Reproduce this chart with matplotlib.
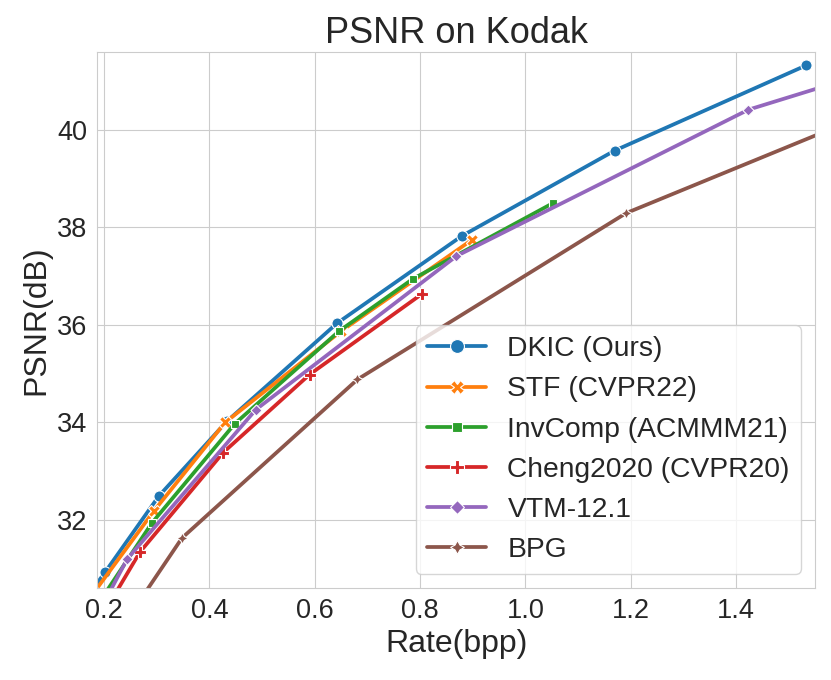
import matplotlib
matplotlib.use("Agg")
import matplotlib.pyplot as plt
import seaborn as sns

# rate (bpp) / PSNR (dB)
dkic_bpp = [0.14, 0.202, 0.304, 0.433, 0.642, 0.879, 1.169, 1.533]
dkic_psnr = [30.0, 30.93, 32.49, 34.02, 36.03, 37.82, 39.57, 41.32]

stf_bpp = [0.18, 0.295, 0.43, 0.65, 0.898]
stf_psnr = [30.5, 32.19, 34.0, 35.87, 37.74]

inv_bpp = [0.19, 0.291, 0.448, 0.646, 0.786, 1.053]
inv_psnr = [30.3, 31.94, 33.97, 35.87, 36.94, 38.5]

cheng_bpp = [0.2, 0.268, 0.426, 0.59, 0.803]
cheng_psnr = [30.1, 31.34, 33.38, 34.98, 36.63]

vtm_bpp = [0.18, 0.244, 0.488, 0.869, 1.423, 1.78]
vtm_psnr = [29.9, 31.2, 34.26, 37.41, 40.41, 41.6]

bpg_bpp = [0.24, 0.348, 0.681, 1.191, 1.78]
bpg_psnr = [29.9, 31.63, 34.88, 38.29, 40.9]

labels = ["DKIC (Ours)", "STF (CVPR22)", "InvComp (ACMMM21)",
          "Cheng2020 (CVPR20)", "VTM-12.1", "BPG"]
markers = ["o", "X", (4, 0, 45), "P", (4, 0, 0), (4, 1, 0)]

sns.set_style("whitegrid")
plt.rcParams['font.family'] = ['Liberation Sans', 'DejaVu Sans']

fig = plt.figure(figsize=(8.31, 6.8), dpi=100)
ax = fig.add_axes([0.117, 0.135, 0.864, 0.789])

series = [(dkic_bpp, dkic_psnr), (stf_bpp, stf_psnr), (inv_bpp, inv_psnr),
          (cheng_bpp, cheng_psnr), (vtm_bpp, vtm_psnr), (bpg_bpp, bpg_psnr)]
colors = sns.color_palette("tab10")
for i, (x, y) in enumerate(series):
    ax.plot(x, y, color=colors[i], marker=markers[i], markersize=8,
            markeredgecolor='white', markeredgewidth=0.8,
            linewidth=2.7, label=labels[i])

ax.set_xlim(0.187, 1.55)
ax.set_ylim(30.6, 41.6)
ax.set_xticks([0.2, 0.4, 0.6, 0.8, 1.0, 1.2, 1.4])
ax.set_yticks([32, 34, 36, 38, 40])
ax.tick_params(labelsize=19.5)
ax.set_xlabel("Rate(bpp)", fontsize=23)
ax.set_ylabel("PSNR(dB)", fontsize=23)
ax.set_title("PSNR on Kodak", fontsize=26)
leg = ax.legend(loc='lower right', fontsize=20.3, handlelength=2.1,
                handletextpad=0.75, markerscale=1.25)
leg.get_frame().set_edgecolor('#cccccc')

fig.savefig("out.png", dpi=100)
